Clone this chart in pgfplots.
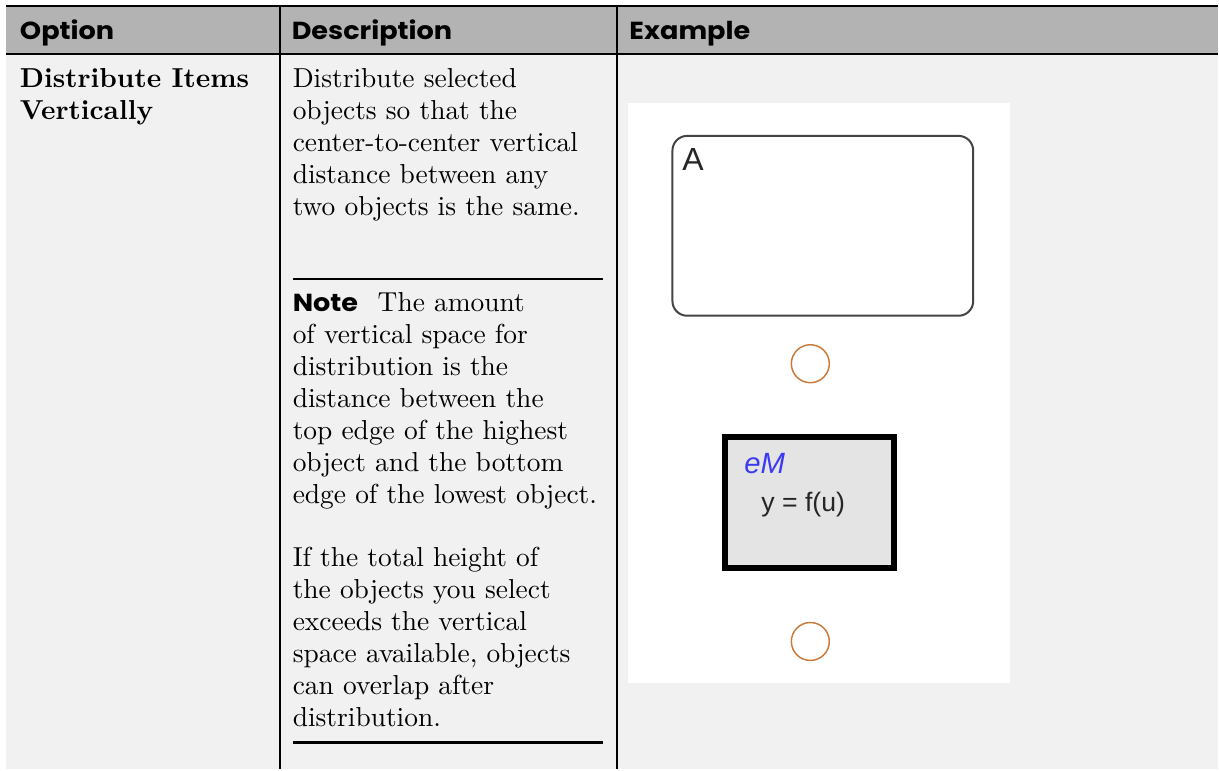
\documentclass[border=0pt]{standalone}
\usepackage{fontspec}
\setmainfont{lmroman10-regular.otf}[BoldFont=lmroman10-bold.otf]
\newfontfamily\hdr{Poppins}[BoldFont={Poppins Bold}, BoldFeatures={FakeStretch=1.1}]
\newfontfamily\arial{Liberation Sans}
\usepackage{pgfplots}
\pgfplotsset{compat=1.18}
\definecolor{hdrgray}{HTML}{B3B3B3}
\definecolor{bodygray}{HTML}{F1F1F1}
\definecolor{boxgray}{HTML}{E4E4E4}
\definecolor{stateline}{HTML}{444444}
\definecolor{junction}{HTML}{C97A3A}
\definecolor{emblue}{HTML}{3A3AF5}
\tikzset{
  tx/.style={anchor=base west, inner sep=0pt, outer sep=0pt},
  body/.style={tx, font=\fontsize{20.6}{24}\selectfont},
  bodyb/.style={tx, font=\bfseries\fontsize{20.6}{24}\selectfont},
  head/.style={tx, font=\hdr\bfseries\fontsize{18.5}{22}\selectfont},
}
\begin{document}
\begin{tikzpicture}
\begin{axis}[
  width=914.25pt, height=577.5pt, scale only axis,
  xmin=0, xmax=1219, ymin=0, ymax=770, y dir=reverse,
  hide axis, clip=false,
]
% page background
\addplot[draw=none, fill=white] coordinates {(0,0) (1219,0) (1219,770) (0,770)} --cycle;
% table body
\addplot[draw=none, fill=bodygray] coordinates {(6,6) (1219,6) (1219,770) (6,770)} --cycle;
% header band
\addplot[draw=none, fill=hdrgray] coordinates {(6,6) (1219,6) (1219,54.5) (6,54.5)} --cycle;
% header rules
\addplot[black, line width=1.5pt] coordinates {(6,6) (1219,6)};
\addplot[black, line width=1.5pt] coordinates {(6,54.5) (1219,54.5)};
% column rules
\addplot[black, line width=1.5pt] coordinates {(280.5,6) (280.5,770)};
\addplot[black, line width=1.5pt] coordinates {(617,6) (617,770)};
% note rules
\addplot[black, line width=1.8pt] coordinates {(293,279) (603,279)};
\addplot[black, line width=1.8pt] coordinates {(293,743) (603,743)};

% header texts
\node[head] at (axis cs:20,40) {Option};
\node[head] at (axis cs:292,40) {Description};
\node[head] at (axis cs:630,40) {Example};

% option column
\node[bodyb] at (axis cs:20,88) {Distribute Items};
\node[bodyb] at (axis cs:20,120) {Vertically};

% description paragraph 1
\node[body] at (axis cs:293,88) {Distribute selected};
\node[body] at (axis cs:293,120) {objects so that the};
\node[body] at (axis cs:293,152) {center-to-center vertical};
\node[body] at (axis cs:293,184) {distance between any};
\node[body] at (axis cs:293,216) {two objects is the same.};
% note
\node[head] at (axis cs:293,312) {Note};
\node[body] at (axis cs:378,312) {The amount};
\node[body] at (axis cs:293,344) {of vertical space for};
\node[body] at (axis cs:293,376) {distribution is the};
\node[body] at (axis cs:293,408) {distance between the};
\node[body] at (axis cs:293,440) {top edge of the highest};
\node[body] at (axis cs:293,472) {object and the bottom};
\node[body] at (axis cs:293,504) {edge of the lowest object.};
\node[body] at (axis cs:293,567) {If the total height of};
\node[body] at (axis cs:293,599) {the objects you select};
\node[body] at (axis cs:293,631) {exceeds the vertical};
\node[body] at (axis cs:293,663) {space available, objects};
\node[body] at (axis cs:293,695) {can overlap after};
\node[body] at (axis cs:293,727) {distribution.};

% example picture
\addplot[draw=none, fill=white] coordinates {(629,103) (1011,103) (1011,684) (629,684)} --cycle;
\draw[stateline, line width=1.5pt, rounded corners=11pt] (axis cs:673,136) rectangle (axis cs:974,316);
\node[tx, font=\arial\fontsize{24}{28}\selectfont, text=black!85] at (axis cs:683,171) {A};
\addplot[only marks, mark=o, mark size=14.25pt, mark options={draw=junction, line width=1.1pt}] coordinates {(811,364) (811,642)};
\addplot[draw=black, fill=boxgray, line width=4.5pt] coordinates {(726,437) (895,437) (895,568) (726,568)} --cycle;
\node[tx, font=\arial\itshape\fontsize{22}{26}\selectfont, text=emblue] at (axis cs:745,474) {eM};
\node[tx, font=\arial\fontsize{20}{24}\selectfont, text=black!85] at (axis cs:762,512) {y = f(u)};
\end{axis}
\end{tikzpicture}
\end{document}
